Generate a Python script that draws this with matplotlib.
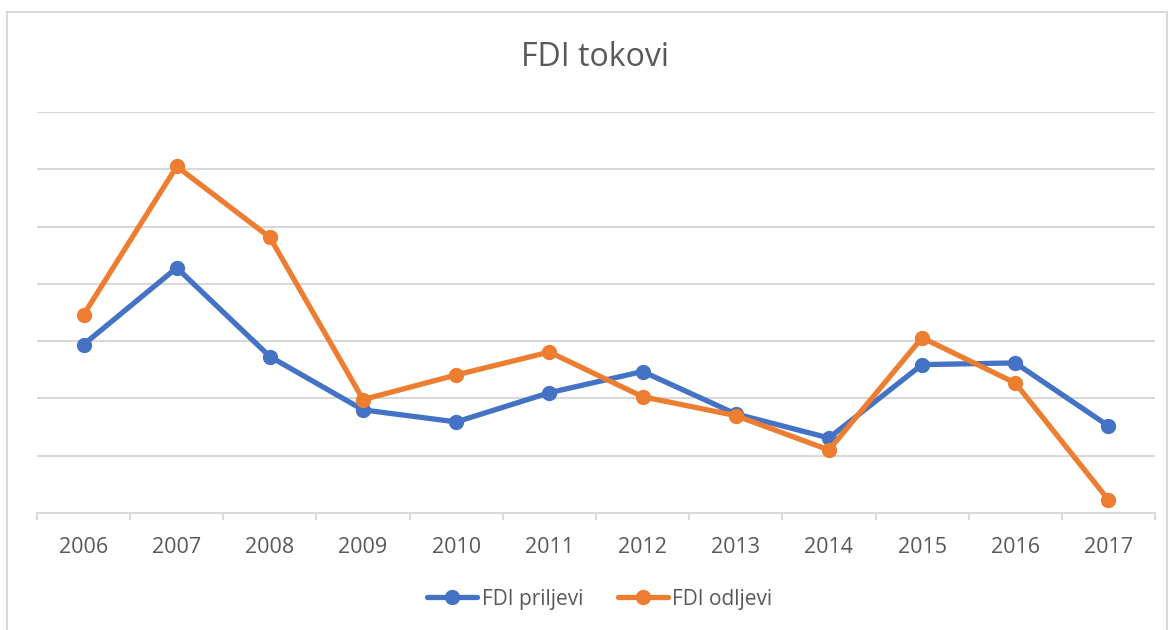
import matplotlib

matplotlib.use("Agg")
import matplotlib.pyplot as plt
import numpy as np
from matplotlib.patches import Rectangle

years = ["2006", "2007", "2008", "2009", "2010", "2011",
         "2012", "2013", "2014", "2015", "2016", "2017"]
priljevi = [2.94, 4.28, 2.73, 1.80, 1.59, 2.10, 2.47, 1.73, 1.31, 2.59, 2.62, 1.52]
odljevi = [3.46, 6.05, 4.81, 1.98, 2.41, 2.81, 2.03, 1.70, 1.10, 3.06, 2.27, 0.23]

BLUE = "#4472C4"
ORANGE = "#ED7D31"
GRID = "#d9d9d9"
TXT = "#595959"
plt.rcParams["font.family"] = ["Open Sans", "DejaVu Sans"]

fig = plt.figure(figsize=(11.7, 6.3), dpi=100)
W, H = 1170, 630
# chart border
fig.patches.append(Rectangle((7 / W, -0.1), (1167 - 7) / W, 1.1 - 12 / H,
                             transform=fig.transFigure, fill=False,
                             edgecolor=GRID, lw=1.5))

ax = fig.add_axes([37 / W, 1 - 513 / H, (1155 - 37) / W, (513 - 112) / H])
x = np.arange(len(years))
ax.plot(x, priljevi, color=BLUE, lw=3.8, marker="o", ms=10, label="FDI priljevi",
        solid_capstyle="round", solid_joinstyle="round", zorder=3)
ax.plot(x, odljevi, color=ORANGE, lw=3.8, marker="o", ms=10, label="FDI odljevi",
        solid_capstyle="round", solid_joinstyle="round", zorder=4)

ax.set_xlim(-0.5, len(years) - 0.5)
ax.set_ylim(0, 7)
ax.set_yticks(np.arange(1, 8))
ax.yaxis.grid(True, color=GRID, lw=1.5)
ax.tick_params(axis="y", left=False, labelleft=False)
ax.set_xticks(x)
ax.set_xticklabels(years, color=TXT, fontsize=15.5)
ax.tick_params(axis="x", length=0, pad=17)
ax.set_xticks(np.arange(-0.5, len(years), 1), minor=True)
ax.tick_params(axis="x", which="minor", length=5, width=1.5, color=GRID)
for s in ["left", "right", "top"]:
    ax.spines[s].set_visible(False)
ax.spines["bottom"].set_color(GRID)
ax.spines["bottom"].set_linewidth(1.5)
ax.set_axisbelow(True)

fig.text(595 / W, 1 - 57 / H, "FDI tokovi", ha="center", va="center",
         fontsize=23, color=TXT)
fig.legend(loc="center", bbox_to_anchor=(600 / W, 1 - 599 / H), ncol=2,
           frameon=False, fontsize=15, labelcolor=TXT, handlelength=2.4,
           handletextpad=0.2, columnspacing=1.7)

fig.savefig("out.png", dpi=100)
